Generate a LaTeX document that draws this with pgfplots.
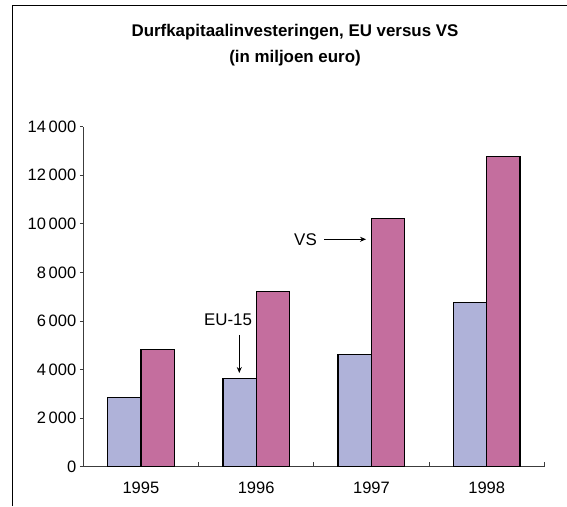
\documentclass[border=0pt]{standalone}
\usepackage{pgfplots}
\pgfplotsset{compat=1.18}
\usepackage{fontspec}
\setmainfont{Liberation Sans}
\usetikzlibrary{arrows.meta}
\definecolor{eucol}{RGB}{175,178,217}
\definecolor{vscol}{RGB}{196,110,158}
\definecolor{axcol}{RGB}{60,60,60}

\begin{document}
\begin{tikzpicture}[x=1pt,y=1pt]
\useasboundingbox (0,0) rectangle (567,506);
% frame (only top and left edges are visible)
\draw[line width=1.4pt] (12.7,0) -- (12.7,500.5) -- (567,500.5);
\node[font=\fontsize{16.9}{26}\selectfont\bfseries, align=center] at (295,461)
  {Durfkapitaalinvesteringen, EU versus VS\\(in miljoen euro)};
\begin{axis}[
  at={(83.3pt,39.3pt)}, anchor=south west,
  scale only axis, width=461pt, height=340pt,
  xmin=-0.5, xmax=3.5, ymin=0, ymax=14000,
  axis x line*=bottom, axis y line*=left,
  ybar=0pt, bar width=33.3pt,
  xtick={0,1,2,3}, xticklabels={1995,1996,1997,1998},
  major x tick style={draw=none},
  x tick label style={yshift=-8pt},
  ytick={0,2000,4000,6000,8000,10000,12000,14000},
  yticklabels={0,2\,000,4\,000,6\,000,8\,000,10\,000,12\,000,14\,000},
  scaled y ticks=false,
  tick align=outside, major tick length=3.5pt,
  tick label style={font=\fontsize{16.5}{18}\selectfont},
  axis line style={line width=0.8pt, draw=axcol},
  every tick/.style={line width=0.8pt, draw=axcol},
  clip=false,
]
\addplot[fill=eucol, draw=black, line width=1.3pt] coordinates {(0,2840) (1,3620) (2,4620) (3,6750)};
\addplot[fill=vscol, draw=black, line width=1.3pt] coordinates {(0,4830) (1,7200) (2,10220) (3,12760)};
\pgfplotsinvokeforeach{-0.5,0.5,1.5,2.5,3.5}{
  \draw[line width=0.8pt, axcol] (axis cs:#1,0) -- ([yshift=5pt]axis cs:#1,0);
}
\end{axis}
% annotations
\node[font=\fontsize{16.9}{18}\selectfont] at (228,186) {EU-15};
\draw[-{Stealth[length=6pt,width=5pt]}, line width=0.7pt] (239.3,171) -- (239.3,133);
\node[font=\fontsize{16.9}{18}\selectfont] at (305.5,266.5) {VS};
\draw[-{Stealth[length=6pt,width=5pt]}, line width=0.7pt] (324,266.7) -- (366,266.7);
\end{tikzpicture}
\end{document}
